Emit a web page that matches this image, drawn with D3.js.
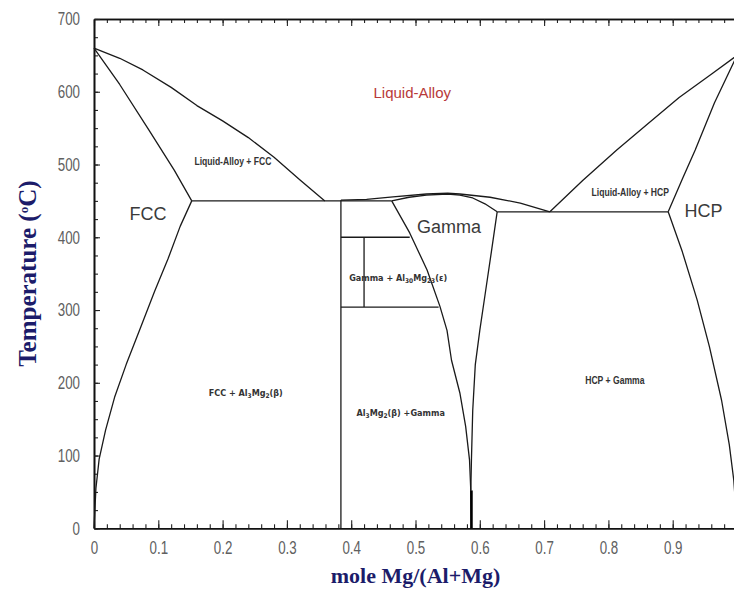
<!DOCTYPE html>
<html>
<head>
<meta charset="utf-8">
<script src="https://cdn.jsdelivr.net/npm/d3@7"></script>
<style>
  html, body { margin: 0; padding: 0; background: #fff; }
  svg { display: block; }
</style>
</head>
<body>
<svg id="chart" width="734" height="593"></svg>
<script>
// Al–Mg phase diagram: phase boundaries as [mole fraction Mg, temperature °C]
const liquidusAl    = [[0, 660], [0.04, 646], [0.076, 630], [0.12, 606], [0.16, 581], [0.2, 560], [0.24, 537], [0.28, 510], [0.32, 479], [0.359, 450]];
const solidusFcc    = [[0, 660], [0.04, 610], [0.085, 548], [0.125, 492], [0.152, 450]];
const solvusFcc     = [[0.152, 450], [0.134, 415], [0.115, 370], [0.094, 325], [0.072, 275], [0.05, 225], [0.032, 180], [0.018, 135], [0.008, 95], [0.003, 55], [0, 0]];
const eutecticFcc   = [[0.152, 450], [0.463, 450]];
const betaLine      = [[0.384, 0], [0.384, 451]];
const liquidusGamma = [[0.384, 451], [0.424, 452], [0.465, 455.5], [0.517, 459.5], [0.55, 460.5], [0.569, 459.5], [0.616, 455], [0.663, 447], [0.709, 435]];
const solidusGamma  = [[0.463, 450], [0.49, 455], [0.517, 458], [0.55, 459.5], [0.569, 458], [0.589, 454], [0.608, 446], [0.627, 435]];
const gammaLeft     = [[0.463, 450], [0.491, 406], [0.518, 355], [0.538, 305], [0.549, 272], [0.556, 231], [0.569, 186], [0.578, 140], [0.584, 94], [0.586, 52], [0.587, 0]];
const gammaRight    = [[0.627, 435], [0.618, 380], [0.608, 320], [0.6, 272], [0.593, 225], [0.589, 162], [0.587, 94], [0.586, 52]];
const gammaStem     = [[0.587, 52], [0.587, 0]];
const epsilonTop    = [[0.384, 400], [0.491, 400]];
const epsilonBottom = [[0.384, 304], [0.536, 304]];
const epsilonLine   = [[0.42, 400], [0.42, 304]];
const eutecticHcp   = [[0.627, 435], [0.893, 435]];
const liquidusMg    = [[0.709, 435], [0.76, 478], [0.813, 520], [0.86, 555], [0.91, 592], [0.96, 624], [1.0, 650]];
const solidusHcp    = [[0.893, 435], [0.915, 480], [0.935, 520], [0.965, 585], [1.0, 650]];
const solvusHcp     = [[0.893, 435], [0.915, 380], [0.938, 314], [0.957, 250], [0.976, 176], [0.988, 115], [0.995, 66], [0.998, 30], [1.0, 0]];

// Phase-field names: [label, x, T]
const bigLabels   = [["FCC", 0.084, 424], ["Gamma", 0.552, 406], ["HCP", 0.948, 428]];
const smallLabels = [["Liquid-Alloy + FCC", 0.216, 499], ["Liquid-Alloy + HCP", 0.834, 457], ["HCP + Gamma", 0.81, 199]];
const subLabels   = [
  [["Gamma + Al", ""], ["30", "sub"], ["Mg", ""], ["23", "sub"], ["(ε)", ""]],
  [["FCC + Al", ""], ["3", "sub"], ["Mg", ""], ["2", "sub"], ["(β)", ""]],
  [["Al", ""], ["3", "sub"], ["Mg", ""], ["2", "sub"], ["(β) +Gamma", ""]]
];
const subLabelPos = [[0.473, 340], [0.236, 182], [0.477, 154]];
const liquidLabel = ["Liquid-Alloy", 0.495, 591];

const xMajor = d3.range(0, 0.95, 0.1);
const xMinor = d3.range(0, 1.001, 0.02);
const yMajor = d3.range(0, 701, 100);
const yMinor = d3.range(0, 701, 25);

const svg = d3.select("#chart");
const x = d3.scaleLinear().domain([0, 1]).range([94, 737]);
const y = d3.scaleLinear().domain([0, 700]).range([528.3, 19]);

const sansFont = "'Liberation Sans', Arial, sans-serif";
const condFont = "'DejaVu Sans Condensed', 'DejaVu Sans', sans-serif";

// squeeze single-run text horizontally to a narrow face
function narrow(sel, factor) {
  sel.each(function () {
    const w = this.getComputedTextLength();
    d3.select(this).attr("textLength", w * factor).attr("lengthAdjust", "spacingAndGlyphs");
  });
}

// minor ticks (no labels)
svg.append("g").attr("transform", `translate(0,${y(0)})`)
  .call(d3.axisBottom(x).tickValues(xMinor).tickSize(-4).tickSizeOuter(0).tickFormat(""));
svg.append("g").attr("transform", `translate(0,${y(700)})`)
  .call(d3.axisTop(x).tickValues(xMinor).tickSize(-4).tickSizeOuter(0).tickFormat(""));
svg.append("g").attr("transform", `translate(${x(0)},0)`)
  .call(d3.axisLeft(y).tickValues(yMinor).tickSize(-4).tickSizeOuter(0).tickFormat(""));

// major ticks
svg.append("g").attr("transform", `translate(0,${y(0)})`)
  .call(d3.axisBottom(x).tickValues(xMajor).tickSize(-8).tickSizeOuter(0).tickPadding(13)
    .tickFormat(d => d === 0 ? "0" : d.toFixed(1)));
svg.append("g").attr("transform", `translate(0,${y(700)})`)
  .call(d3.axisTop(x).tickValues(xMajor).tickSize(-7).tickSizeOuter(0).tickFormat(""));
svg.append("g").attr("transform", `translate(${x(0)},0)`)
  .call(d3.axisLeft(y).tickValues(yMajor).tickSize(-6).tickSizeOuter(0).tickPadding(14));

svg.selectAll(".domain").attr("stroke", "#111").attr("stroke-width", 1.6);
svg.selectAll(".tick line").attr("stroke", "#222").attr("stroke-width", 1.1);
svg.selectAll(".tick text")
  .attr("font-family", sansFont).attr("font-size", 18).attr("fill", "#606060")
  .call(narrow, 0.74);

// phase boundaries
const line = d3.line().x(d => x(d[0])).y(d => y(d[1]));
const boundaries = [liquidusAl, solidusFcc, solvusFcc, eutecticFcc, betaLine, liquidusGamma, solidusGamma,
  gammaLeft, gammaRight, epsilonTop, epsilonBottom, epsilonLine, eutecticHcp, liquidusMg, solidusHcp, solvusHcp];
svg.append("g").selectAll("path").data(boundaries).join("path")
  .attr("d", line).attr("fill", "none").attr("stroke", "#1a1a1a").attr("stroke-width", 1.3)
  .attr("stroke-linejoin", "round");
svg.append("path").datum(gammaStem).attr("d", line)
  .attr("fill", "none").attr("stroke", "#000").attr("stroke-width", 2.6);

// labels
svg.append("text").attr("x", x(liquidLabel[1])).attr("y", y(liquidLabel[2]))
  .attr("text-anchor", "middle").attr("font-family", sansFont).attr("font-size", 15)
  .attr("fill", "#b83a3a").text(liquidLabel[0]);

svg.append("g").selectAll("text").data(bigLabels).join("text")
  .attr("x", d => x(d[1])).attr("y", d => y(d[2])).attr("text-anchor", "middle")
  .attr("font-family", sansFont).attr("font-size", 18).attr("fill", "#3a3a3a").text(d => d[0]);

svg.append("g").selectAll("text").data(smallLabels).join("text")
  .attr("x", d => x(d[1])).attr("y", d => y(d[2])).attr("text-anchor", "middle")
  .attr("font-family", sansFont).attr("font-size", 11)
  .attr("font-weight", "bold").attr("fill", "#333").text(d => d[0])
  .call(narrow, 0.78);

subLabels.forEach((parts, i) => {
  const t = svg.append("text").attr("x", x(subLabelPos[i][0])).attr("y", y(subLabelPos[i][1]))
    .attr("text-anchor", "middle").attr("font-family", condFont).attr("font-stretch", "condensed")
    .attr("font-size", 9).attr("font-weight", "bold").attr("fill", "#333");
  parts.forEach(([s, kind]) => {
    const sp = t.append("tspan").text(s);
    if (kind === "sub") sp.attr("font-size", 6.5).attr("baseline-shift", "-25%");
  });
});

// axis titles
const titleFont = "'Liberation Serif', 'Times New Roman', serif";
svg.append("text").attr("x", (x(0) + x(1)) / 2).attr("y", 583).attr("text-anchor", "middle")
  .attr("font-family", titleFont).attr("font-weight", "bold").attr("font-size", 22)
  .attr("fill", "#1c1c6a").text("mole Mg/(Al+Mg)");

const yt = svg.append("text").attr("transform", `translate(36,${(y(0) + y(700)) / 2}) rotate(-90)`)
  .attr("text-anchor", "middle").attr("font-family", titleFont).attr("font-weight", "bold")
  .attr("font-size", 25).attr("fill", "#1c1c6a");
yt.append("tspan").text("Temperature (");
yt.append("tspan").attr("font-size", 13).attr("baseline-shift", "60%").text("o");
yt.append("tspan").text("C)");
</script>
</body>
</html>
